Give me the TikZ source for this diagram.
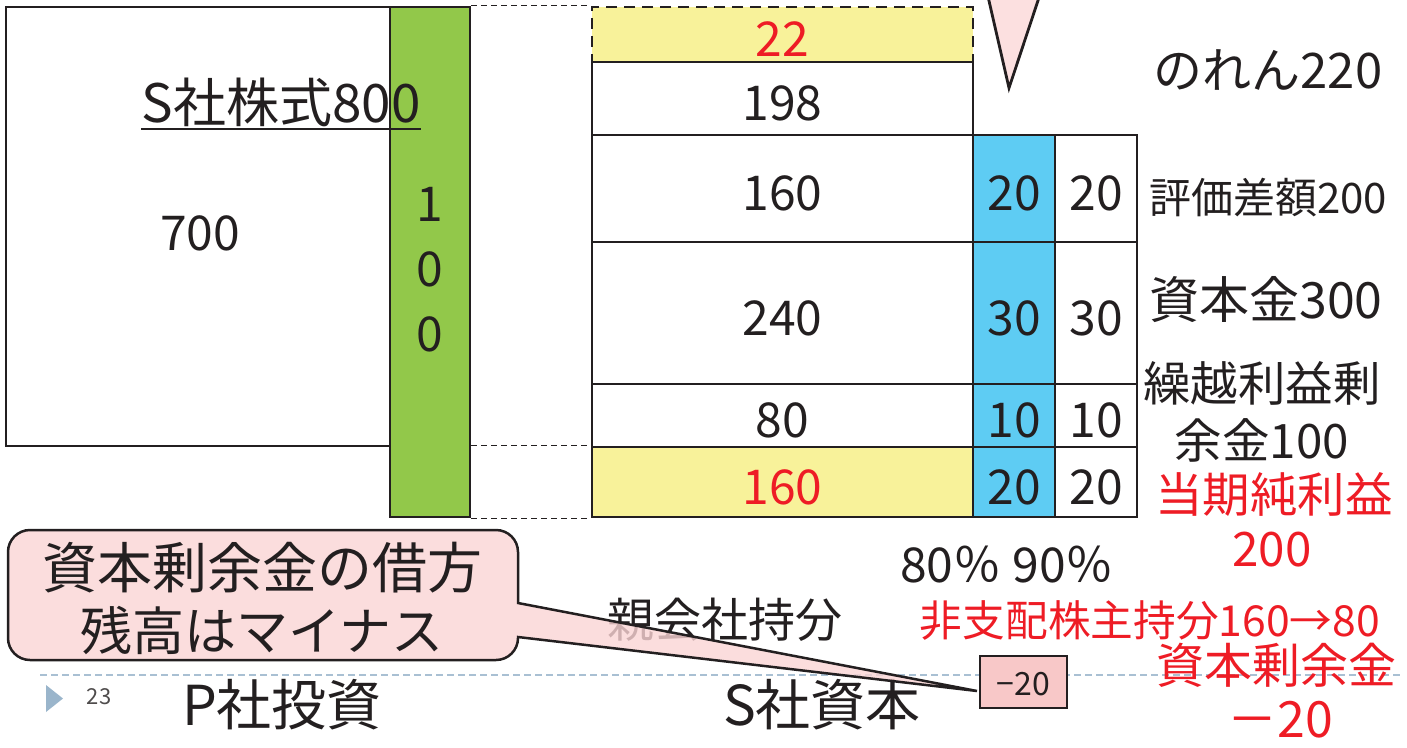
\documentclass[tikz,border=0pt]{standalone}
\usepackage{fontspec}
\setmainfont{Noto Sans CJK JP}
\definecolor{ink}{HTML}{231F20}
\definecolor{grn}{HTML}{92C84A}
\definecolor{ylw}{HTML}{F8F29A}
\definecolor{blu}{HTML}{5ECCF3}
\definecolor{pnk}{HTML}{FCE0E0}
\definecolor{pnkc}{HTML}{FAD4D4}
\definecolor{pnkbox}{HTML}{F8C8C8}
\definecolor{rd}{HTML}{EE1C25}
\definecolor{slideln}{HTML}{A9C0D3}
\definecolor{marker}{HTML}{9AB5CB}
\newcommand\fs[1]{\fontsize{#1}{#1}\selectfont}
\newcommand\mkcell[7]{\node[#1, minimum width={(#5-#3)*1pt}, minimum height={(#6-#4)*1pt}] (#2) at ({(#3+#5)/2},{(#4+#6)/2}) {#7};}
\begin{document}
\begin{tikzpicture}[x=1pt,y=-1pt,
  cell/.style={draw=ink, line width=2.8pt, inner sep=0pt, anchor=center, font=\fs{48}, text=ink, text height=44pt, text depth=0pt},
  lbl/.style={inner sep=0pt, anchor=center, text=ink},
  conn/.style={draw=ink, line width=1.3pt, dash pattern=on 6pt off 4pt},
  redlbl/.style={inner sep=0pt, anchor=center, text=rd}]
\useasboundingbox (0,0) rectangle (1407,747);
\clip (0,0) rectangle (1407,747);
% slide footer line
\draw[slideln, line width=1.5pt, dash pattern=on 7pt off 4pt] (40,675) -- (1400,675);
% left side
\mkcell{cell}{lbox}{6}{7}{390}{446}{}
\mkcell{cell,fill=grn}{gbar}{390}{7}{470}{517}{}
\node[lbl, font={\fontsize{48}{65}\selectfont}, align=center] (g100) at (430,270) {1\\0\\0};
\node[lbl, font=\fs{48}] (v700) at (200,233) {700};
\node[lbl, font=\fs{53}] (sk) at (281,102) {S社株式800};
\draw[ink, line width=2.5pt] ([yshift=-7pt]sk.base west) -- ([yshift=-7pt]sk.base east);
% table
\mkcell{cell,fill=ylw,dash pattern=on 11pt off 7pt,text=rd}{c22}{592}{7}{973}{62}{22}
\mkcell{cell}{c198}{592}{62}{973}{135}{198}
\mkcell{cell}{c160}{592}{135}{973}{242}{160}
\mkcell{cell}{c240}{592}{242}{973}{384}{240}
\mkcell{cell}{c80}{592}{384}{973}{447}{80}
\mkcell{cell,fill=ylw,text=rd}{c160r}{592}{447}{973}{517}{160}
\mkcell{cell,fill=blu}{b1}{973}{135}{1055}{242}{20}
\mkcell{cell,fill=blu}{b2}{973}{242}{1055}{384}{30}
\mkcell{cell,fill=blu}{b3}{973}{384}{1055}{447}{10}
\mkcell{cell,fill=blu}{b4}{973}{447}{1055}{517}{20}
\mkcell{cell}{w1}{1055}{135}{1137}{242}{20}
\mkcell{cell}{w2}{1055}{242}{1137}{384}{30}
\mkcell{cell}{w3}{1055}{384}{1137}{447}{10}
\mkcell{cell}{w4}{1055}{447}{1137}{517}{20}
% dashed connectors
\draw[conn] (gbar.north east) -- (c22.north west);
\draw[conn] (gbar.east |- c160r.north west) -- (c160r.north west);
\draw[conn] (gbar.south east) -- (c160r.south west);
% pink triangle
\draw[ink, fill=pnk, line width=2.8pt, line join=miter] (986.5,-10) -- (1009,88) -- (1041.5,-10) -- cycle;
% right labels
\node[lbl, font=\fs{49}] (noren) at (1268,70) {のれん220};
\node[lbl, font=\fs{42}] (hyoka) at (1268,198) {評価差額200};
\node[lbl, font=\fs{50}] (shihon) at (1266,300) {資本金300};
\node[lbl, font=\fs{47.5}] (kuri1) at (1262,383) {繰越利益剰};
\node[lbl, font=\fs{47.5}] (kuri2) at (1262,440) {余金100};
\node[redlbl, font=\fs{47.5}] (toki1) at (1274,494) {当期純利益};
\node[redlbl, font=\fs{47.5}] (toki2) at (1272,550) {200};
\node[lbl, font=\fs{48}] (pct) at (1007,565) {80％ 90％};
\node[lbl, font=\fs{47}] (oya) at (725,620) {親会社持分};
\node[redlbl, font=\fs{42.7}] (hishi) at (1150,620) {非支配株主持分160→80};
\node[redlbl, font=\fs{48}] (shjy) at (1276,665) {資本剰余金};
\node[redlbl, font=\fs{50}] (m20big) at (1280,720) {－20};
% footer
\fill[marker] (46,685) -- (63,698.5) -- (46,712) -- cycle;
\node[inner sep=0pt, text=ink!80, font=\fs{22}] (pnum) at (99,697) {23};
\node[lbl, font=\fs{55}] (pinv) at (282,705) {P社投資};
\node[lbl, font=\fs{55}] (scap) at (822,705) {S社資本};
% -20 box
\mkcell{cell,fill=pnkbox,font=\fs{32},text height=27pt}{m20}{980}{656}{1067}{708}{−20}
% callout
\coordinate (tip) at (977,691);
\draw[ink, line width=2.5pt, fill=pnkc, fill opacity=0.8]
  (8,595) [rounded corners=22pt] |- (518,530) [sharp corners] -- (518,603) -- (tip) -- (518,637) [rounded corners=22pt] |- (8,660) [sharp corners] -- cycle;
\node[lbl, font=\fs{55}] (co1) at (262,568) {資本剰余金の借方};
\node[lbl, font=\fs{52}] (co2) at (262,630) {残高はマイナス};
\end{tikzpicture}
\end{document}
